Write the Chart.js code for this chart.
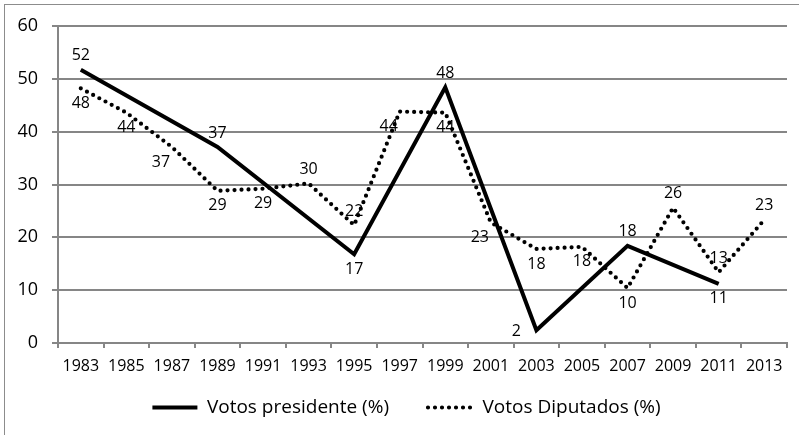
<!DOCTYPE html>
<html>
<head>
<meta charset="utf-8">
<script src="https://cdn.jsdelivr.net/npm/chart.js@4.4.0/dist/chart.umd.min.js"></script>
<style>
html, body { margin: 0; padding: 0; background: #fff; overflow: hidden; }
#wrap { position: relative; width: 799px; height: 435px; overflow: hidden; }
#frame { position: absolute; left: 4px; top: 4px; width: 900px; height: 600px; border: 1px solid #8c8c8c; }
canvas { position: absolute; left: 0; top: 0; }
</style>
</head>
<body>
<div id="wrap"><div id="frame"></div><canvas id="chart" width="799" height="435"></canvas></div>
<script>
// categorias (anos)
var years = ['1983', '1985', '1987', '1989', '1991', '1993', '1995', '1997',
             '1999', '2001', '2003', '2005', '2007', '2009', '2011', '2013'];

// series
var presidente = [51.7, null, null, 37.1, null, null, 16.8, null,
                  48.4, null, 2.4, null, 18.4, null, 11.2, null];
var diputados = [48.2, 43.6, 37.1, 28.8, 29.2, 30.2, 22.3, 43.8,
                 43.6, 22.8, 17.8, 18.2, 10.4, 25.6, 13.4, 23.3];

var yTicks = [0, 10, 20, 30, 40, 50, 60];

// where each data label sits relative to its point
var presLabelPos = ['above', null, null, 'above', null, null, 'below', null,
                    'above', null, 'left', null, 'above', null, 'below', null];
var dipLabelPos = ['below', 'below', 'belowLeft', 'below', 'below', 'above', 'above', 'belowLeft',
                   'below', 'belowLeft', 'below', 'below', 'below', 'above', 'above', 'above'];

var labelOffsets = {
    above: [0, -14],
    below: [0, 15],
    left: [-20, 1],
    belowLeft: [-11, 15]
};

var FONT = "'Open Sans', sans-serif";
var GRID = '#868686';

// draws the value labels next to the points
var dataLabels = {
    id: 'dataLabels',
    afterDatasetsDraw: function (chart) {
        var ctx = chart.ctx;
        ctx.save();
        ctx.font = '16px ' + FONT;
        ctx.fillStyle = '#000';
        ctx.textAlign = 'center';
        ctx.textBaseline = 'middle';
        chart.data.datasets.forEach(function (ds, di) {
            var meta = chart.getDatasetMeta(di);
            meta.data.forEach(function (el, i) {
                var v = ds.data[i];
                var pos = ds.labelPos[i];
                if (v == null || !pos) return;
                var off = labelOffsets[pos];
                ctx.fillText(String(Math.round(v)), el.x + off[0], el.y + off[1]);
            });
        });
        ctx.restore();
    }
};

// legend padding is also the gap between items; pull the box back up
var legendShift = {
    id: 'legendShift',
    afterLayout: function (chart) {
        var lg = chart.legend;
        lg.top -= 17;
        lg.bottom += 12;
        lg.left += 13;
        lg.right += 13;
    }
};

new Chart(document.getElementById('chart'), {
    type: 'line',
    data: {
        labels: years,
        datasets: [{
            label: 'Votos presidente (%)',
            data: presidente,
            labelPos: presLabelPos,
            borderColor: '#000',
            backgroundColor: '#000',
            borderWidth: 4,
            pointRadius: 0,
            spanGaps: true,
            tension: 0,
            borderJoinStyle: 'miter'
        }, {
            label: 'Votos Diputados (%)',
            data: diputados,
            labelPos: dipLabelPos,
            borderColor: '#000',
            backgroundColor: '#000',
            borderWidth: 4.2,
            borderDash: [0, 7],
            borderCapStyle: 'round',
            borderJoinStyle: 'round',
            pointRadius: 0,
            tension: 0
        }]
    },
    options: {
        responsive: false,
        animation: false,
        layout: {
            padding: { left: 0, right: 12, top: 26, bottom: 19 }
        },
        plugins: {
            tooltip: { enabled: false },
            legend: {
                position: 'bottom',
                maxHeight: 40,
                labels: {
                    color: '#000',
                    font: { family: FONT, size: 19 },
                    usePointStyle: true,
                    pointStyleWidth: 45,
                    padding: 39,
                    generateLabels: function (chart) {
                        return chart.data.datasets.map(function (ds, i) {
                            return {
                                text: ds.label,
                                pointStyle: 'line',
                                strokeStyle: '#000',
                                fillStyle: '#000',
                                lineWidth: ds.borderWidth,
                                lineDash: ds.borderDash || [],
                                lineCap: ds.borderCapStyle || 'butt',
                                fontColor: '#000',
                                datasetIndex: i
                            };
                        });
                    }
                }
            }
        },
        scales: {
            x: {
                offset: true,
                grid: {
                    offset: true,
                    drawOnChartArea: false,
                    drawTicks: true,
                    tickLength: 5,
                    color: GRID,
                    lineWidth: 2
                },
                border: { display: true, color: GRID, width: 2 },
                ticks: {
                    color: '#000',
                    font: { family: FONT, size: 16 },
                    padding: 9,
                    maxRotation: 0,
                    autoSkip: false
                },
                afterFit: function (scale) { scale.height = 33; }
            },
            y: {
                min: 0,
                max: 60,
                afterBuildTicks: function (scale) {
                    scale.ticks = yTicks.map(function (v) { return { value: v }; });
                },
                grid: {
                    color: GRID,
                    lineWidth: 2,
                    tickLength: 6
                },
                border: { display: true, color: GRID, width: 2 },
                ticks: {
                    color: '#000',
                    font: { family: FONT, size: 18 },
                    padding: 14
                },
                afterFit: function (scale) { scale.width = 58; }
            }
        }
    },
    plugins: [dataLabels, legendShift]
});
</script>
</body>
</html>
